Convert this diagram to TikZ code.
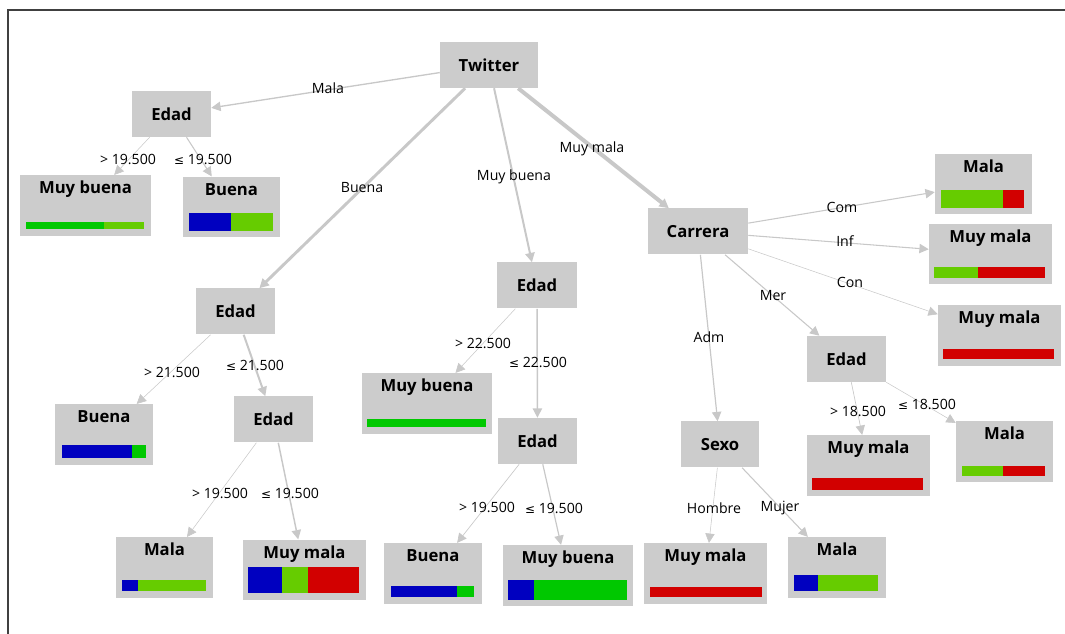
\documentclass[tikz,border=0pt]{standalone}
\usepackage{fontspec}
\setmainfont{Open Sans}
\newfontfamily\dejavu{DejaVu Sans}
\usetikzlibrary{arrows.meta}
\definecolor{boxgray}{HTML}{CCCCCC}
\definecolor{edgegray}{HTML}{C8C8C8}
\definecolor{barblue}{HTML}{0000C0}
\definecolor{bardkgreen}{HTML}{00C800}
\definecolor{barltgreen}{HTML}{66CC00}
\definecolor{barred}{HTML}{D20000}
\definecolor{framegray}{HTML}{404040}
\newcommand{\lesym}{{\dejavu\small ≤}}

\begin{document}
\begin{tikzpicture}[x=0.75pt,y=-0.75pt,
  attr/.style={fill=boxgray,inner sep=0pt,minimum width=#1*0.75pt,
    minimum height=34.5pt,font=\fontsize{12.5}{14}\selectfont\bfseries},
  attr/.default=79,
  leaf/.style={fill=boxgray,inner sep=0pt,minimum width=#1*0.75pt,
    text height=14pt,text depth=31.5pt,font=\fontsize{12.5}{14}\selectfont\bfseries},
  link/.style={draw=edgegray,line width=#1,-{Triangle[length=7pt,width=7pt]}},
  elabel/.style={inner sep=0pt,text height=7.5pt,text depth=2pt,
    font=\fontsize{10.6}{12}\selectfont}]
  \useasboundingbox (0,0) rectangle (1065,634);
  \draw[framegray,line width=1.1pt] (8,640) -- (8,10) -- (1070,10);

  % splits
  \node[attr=98] (tw) at (489,65) {Twitter};
  \node[attr] (e1) at (171.5,114) {Edad};
  \node[attr] (e2) at (235.5,311.5) {Edad};
  \node[attr] (e3) at (273.5,419.5) {Edad};
  \node[attr=80] (e4) at (537,285.5) {Edad};
  \node[attr] (e5) at (537.5,441) {Edad};
  \node[attr=100] (ca) at (698,231.5) {Carrera};
  \node[attr] (e6) at (846.5,359) {Edad};
  \node[attr=78] (sx) at (720,444.5) {Sexo};

  % leaves
  \node[leaf=131] (l1) at (85.5,205.5) {Muy buena};
  \node[leaf=97] (l2) at (231.5,207) {Buena};
  \node[leaf=98] (l3) at (104,434.5) {Buena};
  \node[leaf=97] (l4) at (164.5,567.5) {Mala};
  \node[leaf=123] (l5) at (304.5,570) {Muy mala};
  \node[leaf=130] (l6) at (427,403.5) {Muy buena};
  \node[leaf=98] (l7) at (433,573.5) {Buena};
  \node[leaf=130] (l8) at (568,575.5) {Muy buena};
  \node[leaf=97] (r1) at (983.5,184) {Mala};
  \node[leaf=123] (r2) at (990.5,254) {Muy mala};
  \node[leaf=123] (r3) at (999.5,335.5) {Muy mala};
  \node[leaf=123] (r4) at (868.5,465.5) {Muy mala};
  \node[leaf=97] (r5) at (1004.5,451.5) {Mala};
  \node[leaf=123] (r6) at (705.5,573.5) {Muy mala};
  \node[leaf=98] (r7) at (837,567.5) {Mala};

  % class bars
  \fill[bardkgreen] (26,222) rectangle (104,229);
  \fill[barltgreen] (104,222) rectangle (144,229);
  \fill[barblue] (189,213) rectangle (231,231);
  \fill[barltgreen] (231,213) rectangle (273,231);
  \fill[barblue] (62,445) rectangle (132,458);
  \fill[bardkgreen] (132,445) rectangle (146,458);
  \fill[barblue] (122,580) rectangle (138,591);
  \fill[barltgreen] (138,580) rectangle (206,591);
  \fill[barblue] (248,567) rectangle (282,593);
  \fill[barltgreen] (282,567) rectangle (308,593);
  \fill[barred] (308,567) rectangle (359,593);
  \fill[bardkgreen] (367,419) rectangle (486,427);
  \fill[barblue] (391,586) rectangle (457,597);
  \fill[bardkgreen] (457,586) rectangle (474,597);
  \fill[barblue] (508,580) rectangle (534,600);
  \fill[bardkgreen] (534,580) rectangle (627,600);
  \fill[barltgreen] (941,190) rectangle (1003,208);
  \fill[barred] (1003,190) rectangle (1024,208);
  \fill[barltgreen] (934,267) rectangle (978,278);
  \fill[barred] (978,267) rectangle (1045,278);
  \fill[barred] (943,349) rectangle (1054,359);
  \fill[barred] (812,478) rectangle (923,490);
  \fill[barltgreen] (962,466) rectangle (1003,476);
  \fill[barred] (1003,466) rectangle (1045,476);
  \fill[barred] (650,587) rectangle (762,597);
  \fill[barblue] (794,575) rectangle (818,591);
  \fill[barltgreen] (818,575) rectangle (878,591);

  % branches
  \draw[link=1pt] (tw) -- (e1);
  \draw[link=2.2pt] (tw) -- (e2);
  \draw[link=1.5pt] (tw) -- (e4);
  \draw[link=3pt] (tw) -- (ca);
  \draw[link=0.4pt] (e1) -- (l1);
  \draw[link=0.8pt] (e1) -- (l2);
  \draw[link=0.4pt] (e2) -- (l3);
  \draw[link=1.5pt] (e2) -- (e3);
  \draw[link=0.4pt] (e3) -- (l4);
  \draw[link=1.1pt] (e3) -- (l5);
  \draw[link=0.4pt] (e4) -- (l6);
  \draw[link=1.1pt] (e4) -- (e5);
  \draw[link=0.5pt] (e5) -- (l7);
  \draw[link=0.9pt] (e5) -- (l8);
  \draw[link=0.8pt] (ca) -- (r1);
  \draw[link=0.8pt] (ca) -- (r2);
  \draw[link=0.4pt] (ca) -- (r3);
  \draw[link=0.8pt] (ca) -- (e6);
  \draw[link=0.9pt] (ca) -- (sx);
  \draw[link=0.5pt] (e6) -- (r4);
  \draw[link=0.4pt] (e6) -- (r5);
  \draw[link=0.4pt] (sx) -- (r6);
  \draw[link=0.8pt] (sx) -- (r7);

  % branch labels
  \node[elabel] (ltw1) at (328,90) {Mala};
  \node[elabel] (ltw2) at (362,189) {Buena};
  \node[elabel] (ltw3) at (514,177) {Muy buena};
  \node[elabel] (ltw4) at (592,149) {Muy mala};
  \node[elabel] (le1a) at (128,161) {> 19.500};
  \node[elabel] (le1b) at (203,161) {\lesym{} 19.500};
  \node[elabel] (le2a) at (172,374) {> 21.500};
  \node[elabel] (le2b) at (255,367) {\lesym{} 21.500};
  \node[elabel] (le3a) at (220,495) {> 19.500};
  \node[elabel] (le3b) at (290,495) {\lesym{} 19.500};
  \node[elabel] (le4a) at (483,345) {> 22.500};
  \node[elabel] (le4b) at (538,364) {\lesym{} 22.500};
  \node[elabel] (le5a) at (487,509) {> 19.500};
  \node[elabel] (le5b) at (554,510) {\lesym{} 19.500};
  \node[elabel] (lca1) at (842,209) {Com};
  \node[elabel] (lca2) at (845,243) {Inf};
  \node[elabel] (lca3) at (850,284) {Con};
  \node[elabel] (lca4) at (773,297) {Mer};
  \node[elabel] (lca5) at (709,339) {Adm};
  \node[elabel] (le6a) at (858,413) {> 18.500};
  \node[elabel] (le6b) at (927,406) {\lesym{} 18.500};
  \node[elabel] (lsx1) at (714,510) {Hombre};
  \node[elabel] (lsx2) at (780,508) {Mujer};
\end{tikzpicture}
\end{document}
